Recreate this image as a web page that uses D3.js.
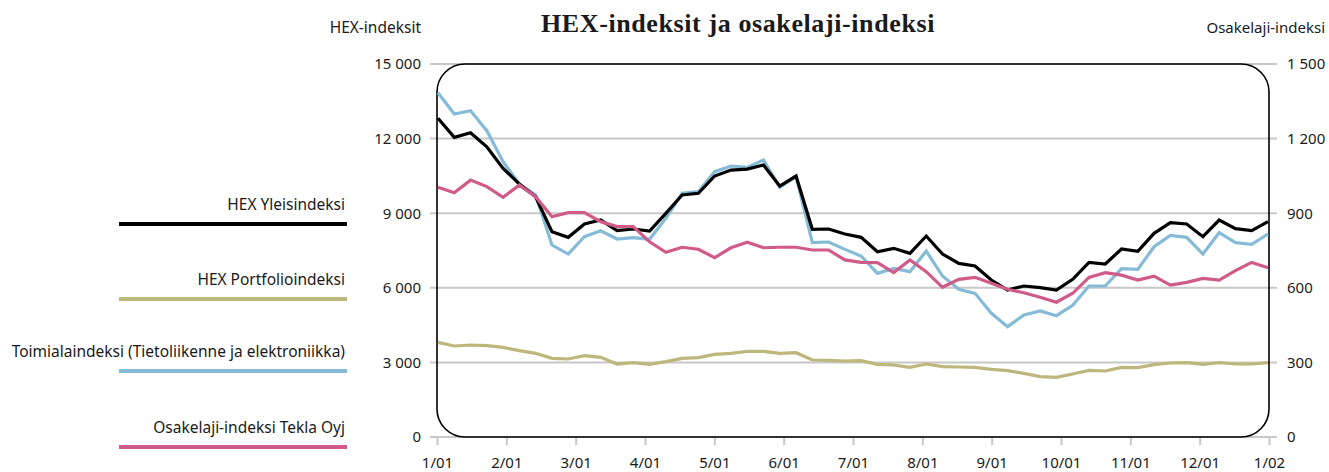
<!DOCTYPE html>
<html>
<head>
<meta charset="utf-8">
<script src="https://cdn.jsdelivr.net/npm/d3@7"></script>
<style>
    body { margin: 0; background: #fff; }
    svg text { font-family: 'Noto Sans', sans-serif; fill: #1a1a1a; }
</style>
</head>
<body>
<div id="chart"></div>
<script>
// weekly closing values, 2001
const hexYleis = [
    12815, 12050, 12236, 11673, 10804, 10173, 9663, 8256, 8029, 8565,
    8726, 8296, 8364, 8283, 8995, 9731, 9799, 10495, 10736, 10776,
    10937, 10093, 10495, 8351, 8364, 8163, 8029, 7451, 7587, 7385,
    8082, 7358, 6983, 6876, 6313, 5911, 6072, 6005, 5911, 6340,
    7023, 6956, 7559, 7466, 8190, 8618, 8565, 8056, 8726, 8377,
    8296, 8658
];
const hexPortfolio = [
    3807, 3659, 3699, 3672, 3605, 3472, 3365, 3163, 3136, 3271,
    3204, 2935, 2989, 2922, 3029, 3163, 3190, 3324, 3365, 3445,
    3445, 3365, 3391, 3096, 3083, 3056, 3070, 2922, 2895, 2801,
    2935, 2828, 2815, 2801, 2721, 2667, 2560, 2426, 2399, 2533,
    2680, 2654, 2801, 2788, 2908, 2976, 2989, 2922, 2989, 2935,
    2935, 2989
];
const toimiala = [
    13845, 12988, 13121, 12317, 11070, 10173, 9731, 7720, 7358, 8054,
    8296, 7962, 8014, 7950, 8794, 9799, 9864, 10668, 10897, 10844,
    11138, 10039, 10468, 7814, 7841, 7546, 7278, 6581, 6782, 6648,
    7479, 6474, 5938, 5777, 4973, 4437, 4906, 5067, 4879, 5295,
    6072, 6072, 6769, 6742, 7653, 8109, 8029, 7358, 8217, 7814,
    7747, 8163
];
// right axis
const tekla = [
    1004, 982, 1033, 1007, 964, 1013, 966, 886, 902, 902,
    866, 846, 846, 785, 743, 763, 755, 721, 761, 783,
    761, 763, 763, 752, 752, 712, 702, 701, 661, 712,
    665, 602, 634, 642, 618, 594, 580, 562, 542, 578,
    642, 661, 651, 631, 647, 611, 622, 638, 631, 669,
    702, 681
];

const monthLabels = ['1/01', '2/01', '3/01', '4/01', '5/01', '6/01', '7/01',
    '8/01', '9/01', '10/01', '11/01', '12/01', '1/02'];
const leftTicks = [0, 3000, 6000, 9000, 12000, 15000];
const rightTicks = [0, 300, 600, 900, 1200, 1500];

const series = [
    { name: 'HEX Yleisindeksi', values: hexYleis, axis: 'left', color: '#000000' },
    { name: 'HEX Portfolioindeksi', values: hexPortfolio, axis: 'left', color: '#bdb77c' },
    { name: 'Toimialaindeksi (Tietoliikenne ja elektroniikka)', values: toimiala, axis: 'left', color: '#86bbd8' },
    { name: 'Osakelaji-indeksi Tekla Oyj', values: tekla, axis: 'right', color: '#d05a88' }
];
const drawOrder = [1, 2, 0, 3];

function drawChart() {
    const width = 1329, height = 472;
    const plot = { left: 437, right: 1269, top: 64, bottom: 437 };

    const svg = d3.select('#chart')
        .append('svg')
        .attr('width', width)
        .attr('height', height);

    const xMonth = d3.scalePoint()
        .domain(monthLabels)
        .range([plot.left, plot.right]);

    const xWeek = d3.scaleLinear()
        .domain([0, hexYleis.length - 1])
        .range([plot.left + 1, plot.right - 1]);

    const yLeft = d3.scaleLinear()
        .domain([0, 15000])
        .range([plot.bottom, plot.top]);

    const yRight = d3.scaleLinear()
        .domain([0, 1500])
        .range([plot.bottom, plot.top]);

    const fmt = d => d3.format(',')(d).replace(/,/g, ' ');

    // gridlines
    svg.append('g')
        .selectAll('line')
        .data(leftTicks)
        .enter()
        .append('line')
        .attr('x1', plot.left - 7)
        .attr('x2', plot.right + 8)
        .attr('y1', d => yLeft(d))
        .attr('y2', d => yLeft(d))
        .attr('stroke', '#c8c8c8')
        .attr('stroke-width', 2);

    // x axis
    const xAxis = svg.append('g')
        .attr('transform', `translate(0, ${plot.bottom})`)
        .call(d3.axisBottom(xMonth).tickSize(8).tickPadding(12));
    xAxis.select('.domain').remove();
    xAxis.selectAll('.tick line').attr('stroke', '#c8c8c8').attr('stroke-width', 2);
    xAxis.selectAll('.tick text')
        .style('font-size', '15px')
        .style('font-family', "'Noto Sans', sans-serif")
        .attr('fill', '#1a1a1a');

    const yAxisL = svg.append('g')
        .attr('transform', `translate(${plot.left - 7}, 0)`)
        .call(d3.axisLeft(yLeft).tickValues(leftTicks).tickSize(0).tickPadding(9).tickFormat(fmt));
    yAxisL.select('.domain').remove();
    yAxisL.selectAll('.tick text')
        .style('font-size', '15px')
        .style('font-family', "'Noto Sans', sans-serif")
        .attr('fill', '#1a1a1a');

    const yAxisR = svg.append('g')
        .attr('transform', `translate(${plot.right + 8}, 0)`)
        .call(d3.axisRight(yRight).tickValues(rightTicks).tickSize(0).tickPadding(10).tickFormat(fmt));
    yAxisR.select('.domain').remove();
    yAxisR.selectAll('.tick text')
        .style('font-size', '15px')
        .style('font-family', "'Noto Sans', sans-serif")
        .attr('fill', '#1a1a1a');

    // rounded frame
    svg.append('rect')
        .attr('x', plot.left)
        .attr('y', plot.top)
        .attr('width', plot.right - plot.left)
        .attr('height', plot.bottom - plot.top)
        .attr('rx', 28)
        .attr('ry', 28)
        .attr('fill', 'none')
        .attr('stroke', '#000')
        .attr('stroke-width', 1.6);

    // series lines
    drawOrder.forEach(k => {
        const s = series[k];
        const y = s.axis === 'left' ? yLeft : yRight;
        const line = d3.line()
            .x((d, i) => xWeek(i))
            .y(d => y(d));
        svg.append('path')
            .datum(s.values)
            .attr('fill', 'none')
            .attr('stroke', s.color)
            .attr('stroke-width', 3.2)
            .attr('stroke-linejoin', 'miter')
            .attr('d', line);
    });

    // titles
    svg.append('text')
        .attr('x', 738)
        .attr('y', 32)
        .attr('text-anchor', 'middle')
        .style('font-family', "'Liberation Serif', serif")
        .style('font-weight', 'bold')
        .style('font-size', '26px')
        .style('letter-spacing', '0.6px')
        .text('HEX-indeksit ja osakelaji-indeksi');

    svg.append('text')
        .attr('x', 421)
        .attr('y', 33)
        .attr('text-anchor', 'end')
        .style('font-size', '15.5px')
        .text('HEX-indeksit');

    svg.append('text')
        .attr('x', 1325)
        .attr('y', 33)
        .attr('text-anchor', 'end')
        .style('font-size', '15px')
        .text('Osakelaji-indeksi');

    // legend
    const legendY = [224, 299, 371, 447];
    const legend = svg.append('g')
        .selectAll('g')
        .data(series)
        .enter()
        .append('g')
        .attr('transform', (d, i) => `translate(0, ${legendY[i]})`);

    legend.append('line')
        .attr('x1', 119)
        .attr('x2', 347)
        .attr('stroke', d => d.color)
        .attr('stroke-width', 4);

    legend.append('text')
        .attr('x', 345)
        .attr('y', -14)
        .attr('text-anchor', 'end')
        .style('font-size', '15.5px')
        .text(d => d.name);
}

drawChart();
</script>
</body>
</html>
